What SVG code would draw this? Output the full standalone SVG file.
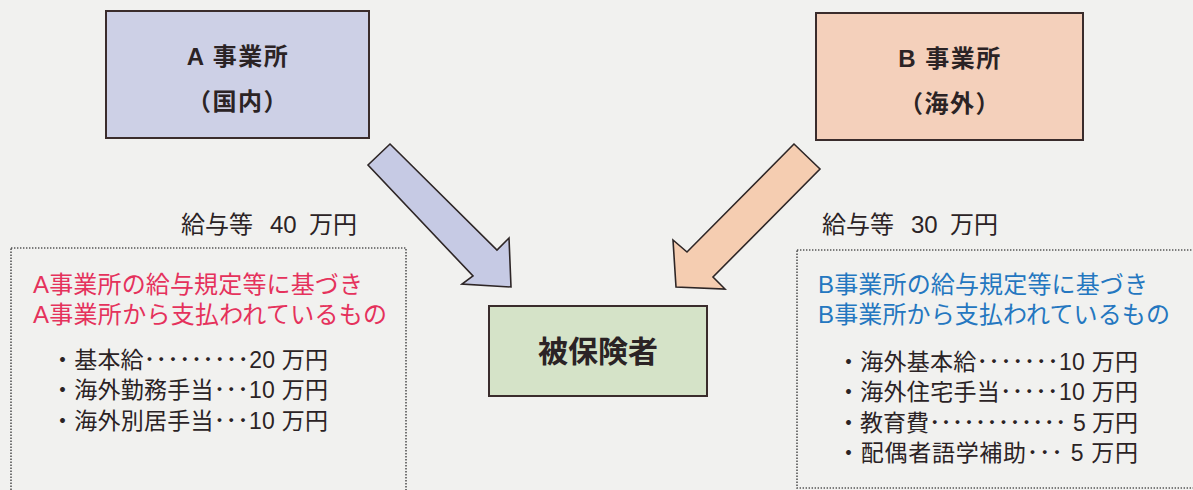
<svg xmlns="http://www.w3.org/2000/svg" width="1193" height="490" viewBox="0 0 1193 490">
<style>
text{font-family:"Liberation Sans","Noto Sans CJK JP",sans-serif;fill:#2b2325}
.box{stroke:#3a2c2c;stroke-width:2}
.arrow{stroke:#2e2626;stroke-width:1.6;stroke-linejoin:miter}
.dot{fill:none;stroke:#555;stroke-width:1.6;stroke-dasharray:1.4 1.6}
.title{font-size:24px;font-weight:bold;text-anchor:middle;letter-spacing:1.5px}
.lbl{font-size:24px}
.red{fill:#e5325c;font-size:24px}
.blue{fill:#2477c0;font-size:24px}
.item{font-size:23px}
</style>
<rect width="1193" height="490" fill="#f1f1ef"/>
<g id="nodeA">
<rect class="box" x="106" y="11" width="263" height="127" fill="#cdd0e6"/>
<text class="title" x="238" y="65">A 事業所</text>
<text class="title" x="238" y="110">（国内）</text>
</g>
<g id="nodeB">
<rect class="box" x="816" y="13" width="267" height="127" fill="#f4d0bb"/>
<text class="title" x="950" y="67">B 事業所</text>
<text class="title" x="950" y="112">（海外）</text>
</g>
<g id="nodeC">
<rect class="box" x="489" y="306" width="218" height="90" fill="#d5e3c8"/>
<text x="598" y="362" style="font-size:30px;font-weight:bold;text-anchor:middle">被保険者</text>
</g>
<g id="connectors">
<polygon class="arrow" fill="#c6cae4" points="390,144 497,250 509,238 511,287 462,284 473,276 368,165"/>
<polygon class="arrow" fill="#f5cdb1" points="794,144 687,252 673,240 676,287 725,289 713,277 820,169"/>
</g>
<g id="detailA">
<text class="lbl" y="233"><tspan x="181">給与等</tspan><tspan x="270">40</tspan><tspan x="309">万円</tspan></text>
<rect class="dot" x="11" y="248" width="395" height="260"/>
<text class="red" x="33" y="293" textLength="330" lengthAdjust="spacing">A事業所の給与規定等に基づき</text>
<text class="red" x="33" y="323" textLength="354" lengthAdjust="spacing">A事業所から支払われているもの</text>
<text class="item" x="51" y="368" textLength="277" lengthAdjust="spacing">・基本給･････････20 万円</text>
<text class="item" x="51" y="398" textLength="277" lengthAdjust="spacing">・海外勤務手当･･･10 万円</text>
<text class="item" x="51" y="429" textLength="277" lengthAdjust="spacing">・海外別居手当･･･10 万円</text>
</g>
<g id="detailB">
<text class="lbl" y="233"><tspan x="822">給与等</tspan><tspan x="911">30</tspan><tspan x="950">万円</tspan></text>
<rect class="dot" x="797" y="250" width="420" height="238"/>
<text class="blue" x="818" y="293" textLength="330" lengthAdjust="spacing">B事業所の給与規定等に基づき</text>
<text class="blue" x="818" y="323" textLength="352" lengthAdjust="spacing">B事業所から支払われているもの</text>
<text class="item" x="837" y="370" textLength="301" lengthAdjust="spacing">・海外基本給･･･････10 万円</text>
<text class="item" x="837" y="400" textLength="301" lengthAdjust="spacing">・海外住宅手当･････10 万円</text>
<text class="item" x="837" y="431" textLength="301" lengthAdjust="spacing">・教育費････････････ 5 万円</text>
<text class="item" x="837" y="461" textLength="301" lengthAdjust="spacing">・配偶者語学補助･･･ 5 万円</text>
</g>
</svg>
